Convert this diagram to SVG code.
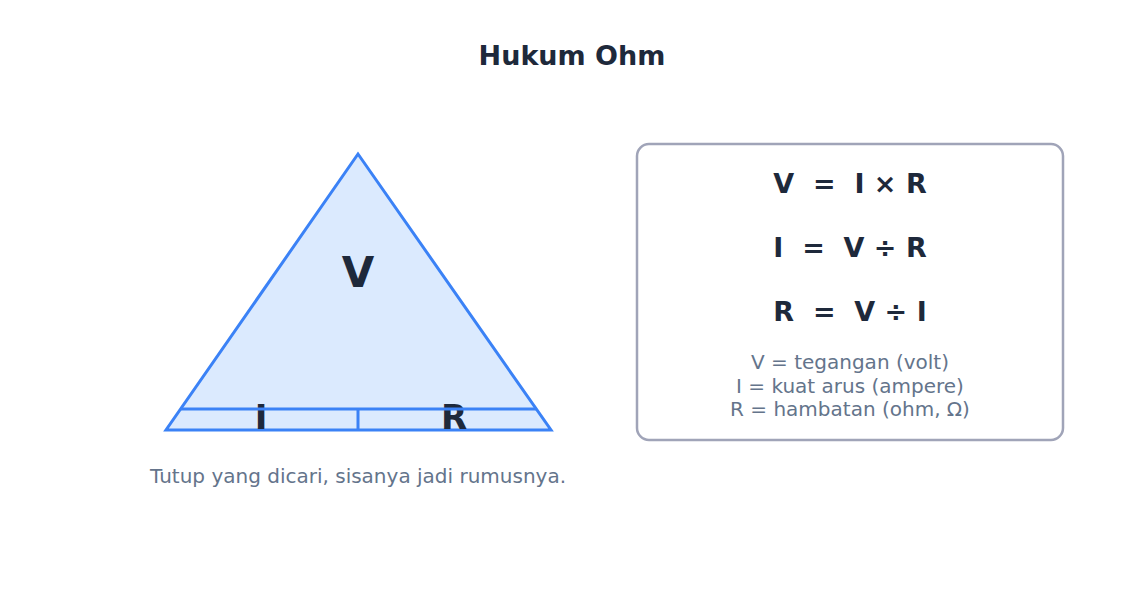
<svg xmlns="http://www.w3.org/2000/svg" width="1144" height="606" viewBox="0 0 1144 606">
<style>
.t{font-family:"DejaVu Sans","Liberation Sans",sans-serif;}
.b{font-weight:bold;fill:#1e293b;}
.g{fill:#64748b;}
.edge{stroke:#3b82f6;stroke-width:3;fill:none;}
</style>
<rect width="1144" height="606" fill="#ffffff"/>
<text class="t b" x="572" y="65" font-size="27" text-anchor="middle">Hukum Ohm</text>
<g id="triangle">
<polygon points="358,154 166,430 551,430" fill="#dbeafe" stroke="#3b82f6" stroke-width="3" stroke-linejoin="miter"/>
<text class="t b" x="358" y="287" font-size="42" text-anchor="middle">V</text>
<text class="t b" x="261" y="429" font-size="34" text-anchor="middle">I</text>
<text class="t b" x="454" y="429" font-size="34" text-anchor="middle">R</text>
</g>
<g id="connectors">
<line class="edge" x1="180.6" y1="409" x2="536.4" y2="409"/>
<line class="edge" x1="358" y1="409" x2="358" y2="430"/>
</g>
<text class="t g" x="358" y="483" font-size="20" text-anchor="middle">Tutup yang dicari, sisanya jadi rumusnya.</text>
<g id="formulas">
<rect x="637" y="144" width="426" height="296" rx="12" fill="#ffffff" stroke="#a0a4b8" stroke-width="2.5"/>
<text class="t b" x="850" y="193" font-size="27" text-anchor="middle" xml:space="preserve">V  =  I × R</text>
<text class="t b" x="850" y="257" font-size="27" text-anchor="middle" xml:space="preserve">I  =  V ÷ R</text>
<text class="t b" x="850" y="321" font-size="27" text-anchor="middle" xml:space="preserve">R  =  V ÷ I</text>
<text class="t g" x="850" y="369" font-size="20" text-anchor="middle">V = tegangan (volt)</text>
<text class="t g" x="850" y="392.5" font-size="20" text-anchor="middle">I = kuat arus (ampere)</text>
<text class="t g" x="850" y="416" font-size="20" text-anchor="middle">R = hambatan (ohm, Ω)</text>
</g>
</svg>
